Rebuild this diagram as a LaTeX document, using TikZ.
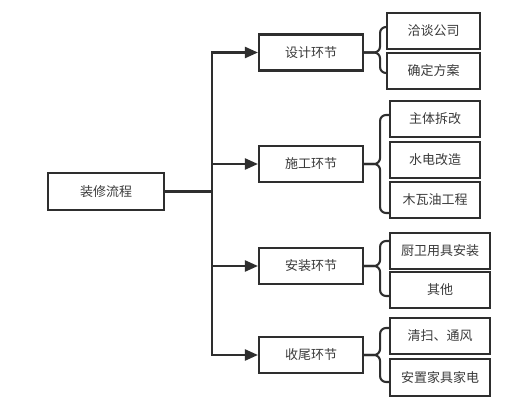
\documentclass[tikz,border=0pt]{standalone}
\usepackage{fontspec}
\newfontfamily\cjk{Noto Sans CJK SC}
\usetikzlibrary{arrows.meta,calc}
\definecolor{lc}{HTML}{2E2E2E}
\definecolor{tc}{HTML}{3A3A3A}
\tikzset{
  box/.style={draw=lc, line width=2.1pt, minimum height=36pt, inner sep=0pt, text=tc,
    font=\cjk\fontsize{13}{13}\selectfont},
  conn/.style={draw=lc, line width=2.2pt},
  arr/.style={conn, -{Triangle[length=13pt,width=11pt]}},
  brc/.style={draw=lc, line width=2.1pt, rounded corners=6pt},
}
\newcommand\mybrace[5]{% stage, top leaf, bottom leaf, dy top, dy bottom
  \coordinate (#1M) at ($(#1.east)+(16,0)$);
  \coordinate (#1T) at ($(#1.east)+(16,#4)$);
  \coordinate (#1B) at ($(#1.east)+(16,#5)$);
  \draw[brc] (#1T -| #2.west) -- (#1T) -- (#1M) -- (#1.east);
  \draw[brc] (#1B -| #3.west) -- (#1B) -- (#1M) -- (#1.east);
}
\begin{document}
\begin{tikzpicture}[x=1pt,y=-1pt]
\useasboundingbox (0,0) rectangle (522,409);
\node[box, minimum width=116pt, minimum height=37pt] (main) at (106,191.5) {装修流程};
\node[box, minimum width=104pt] (s1) at (311,52.5) {设计环节};
\node[box, minimum width=104pt] (s2) at (311,164) {施工环节};
\node[box, minimum width=104pt] (s3) at (311,266) {安装环节};
\node[box, minimum width=104pt] (s4) at (311,355) {收尾环节};
\node[box, minimum width=93pt] (a1) at (433.5,31) {洽谈公司};
\node[box, minimum width=93pt] (a2) at (433.5,71) {确定方案};
\node[box, minimum width=90pt] (b1) at (435,119) {主体拆改};
\node[box, minimum width=90pt] (b2) at (435,160) {水电改造};
\node[box, minimum width=90pt] (b3) at (435,200) {木瓦油工程};
\node[box, minimum width=100pt] (c1) at (440,251) {厨卫用具安装};
\node[box, minimum width=100pt] (c2) at (440,290) {其他};
\node[box, minimum width=100pt] (d1) at (440,336) {清扫、通风};
\node[box, minimum width=100pt, minimum height=37pt] (d2) at (440,377.5) {安置家具家电};
\coordinate (j) at (212,191.5);
\draw[conn] (main.east) -- (j);
\draw[arr] (j) |- (s1.west);
\draw[arr] (j) |- (s2.west);
\draw[arr] (j) |- (s3.west);
\draw[arr] (j) |- (s4.west);
\mybrace{s1}{a1}{a2}{-25.5}{20.5}
\mybrace{s2}{b1}{b3}{-49}{49}
\mybrace{s3}{c1}{c2}{-25}{30}
\mybrace{s4}{d1}{d2}{-27}{27}
\end{tikzpicture}
\end{document}
